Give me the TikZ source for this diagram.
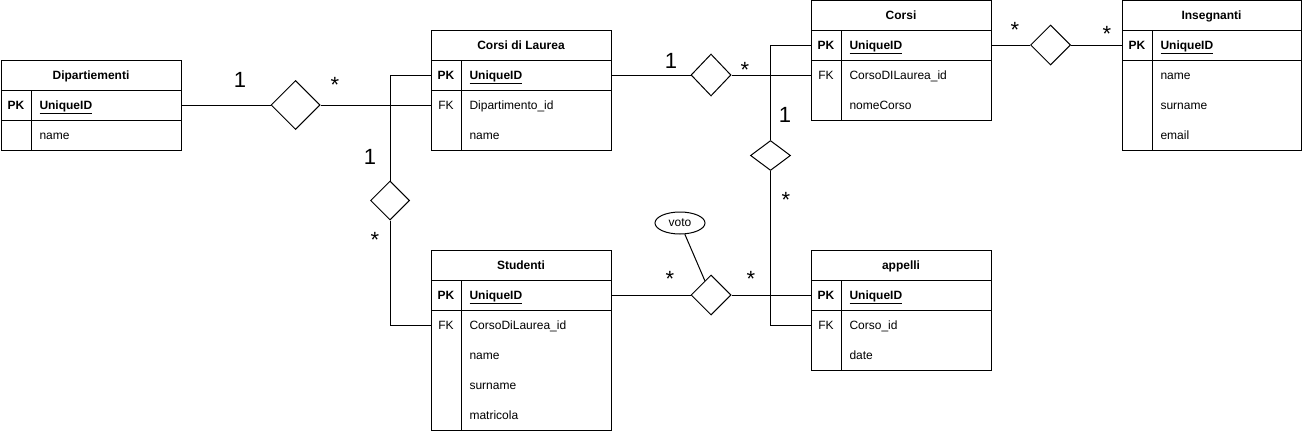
\documentclass[tikz,border=0pt]{standalone}
\usepackage{fontspec}
\setmainfont{Liberation Sans}
\usetikzlibrary{shapes.geometric}
\begin{document}
\begin{tikzpicture}[x=1pt,y=-1pt,line width=1pt,
  tabline/.style={draw=black,line width=1pt},
  hdr/.style={font=\fontsize{12}{14}\selectfont\bfseries,text height=10.9pt,text depth=2.5pt,inner sep=0},
  keytxt/.style={font=\fontsize{12}{14}\selectfont\bfseries,anchor=center,inner sep=0,text height=10.9pt,text depth=2.5pt},
  fktxt/.style={font=\fontsize{12}{14}\selectfont,anchor=center,inner sep=0,text height=10.9pt,text depth=2.5pt},
  fldtxt/.style={font=\fontsize{12}{14}\selectfont,anchor=west,inner sep=0,text height=10.9pt,text depth=2.5pt},
  pktxt/.style={font=\fontsize{12}{14}\selectfont\bfseries,anchor=west,inner sep=0,text height=10.9pt,text depth=2.5pt},
  rowsel/.style={minimum width=180pt,minimum height=30pt,inner sep=0,draw=none},
  rel/.style={diamond,draw=black,fill=white,inner sep=0,line width=1pt},
  one/.style={font=\fontsize{22}{24}\selectfont,anchor=base,yshift=-7.9pt,inner sep=0},
  many/.style={font=\fontsize{22}{24}\selectfont,anchor=base,yshift=-12.5pt,inner sep=0},
  attr/.style={ellipse,draw=black,minimum width=50pt,minimum height=22pt,inner sep=0,font=\fontsize{12}{14}\selectfont}
]
\useasboundingbox (0,0) rectangle (1302,431);

% ---------- Dipartiementi ----------
\draw[tabline] (1,60) rectangle (181,150);
\draw[tabline] (1,90) -- (181,90) (1,120) -- (181,120) (31,90) -- (31,150);
\node[hdr] (dip) at (91,75) {Dipartiementi};
\node[rowsel] (dip-pk) at (91,105) {};
\node[keytxt] (dip-pkk) at (16,105) {PK};
\node[pktxt] (dip-pkf) at (39,105) {\underline{UniqueID}};
\node[fldtxt] (dip-f1) at (39,135) {name};

% ---------- Corsi di Laurea ----------
\draw[tabline] (431,30) rectangle (611,150);
\draw[tabline] (431,60) -- (611,60) (431,90) -- (611,90) (461,60) -- (461,150);
\node[hdr] (cdl) at (521,45) {Corsi di Laurea};
\node[rowsel] (cdl-pk) at (521,75) {};
\node[rowsel] (cdl-fk) at (521,105) {};
\node[keytxt] (cdl-pkk) at (446,75) {PK};
\node[pktxt] (cdl-pkf) at (469,75) {\underline{UniqueID}};
\node[fktxt] (cdl-fkk) at (446,105) {FK};
\node[fldtxt] (cdl-f1) at (469,105) {Dipartimento\_id};
\node[fldtxt] (cdl-f2) at (469,135) {name};

% ---------- Corsi ----------
\draw[tabline] (811,0.5) rectangle (991,120);
\draw[tabline] (811,30) -- (991,30) (811,60) -- (991,60) (841,30) -- (841,120);
\node[hdr] (cor) at (901,15) {Corsi};
\node[rowsel] (cor-pk) at (901,45) {};
\node[rowsel] (cor-fk) at (901,75) {};
\node[keytxt] (cor-pkk) at (826,45) {PK};
\node[pktxt] (cor-pkf) at (849,45) {\underline{UniqueID}};
\node[fktxt] (cor-fkk) at (826,75) {FK};
\node[fldtxt] (cor-f1) at (849,75) {CorsoDILaurea\_id};
\node[fldtxt] (cor-f2) at (849,105) {nomeCorso};

% ---------- Insegnanti ----------
\draw[tabline] (1122,0.5) rectangle (1301,150);
\draw[tabline] (1122,30) -- (1301,30) (1122,60) -- (1301,60) (1152,30) -- (1152,150);
\node[hdr] (ins) at (1211.5,15) {Insegnanti};
\node[rowsel,minimum width=179pt] (ins-pk) at (1211.5,45) {};
\node[keytxt] (ins-pkk) at (1137,45) {PK};
\node[pktxt] (ins-pkf) at (1160,45) {\underline{UniqueID}};
\node[fldtxt] (ins-f1) at (1160,75) {name};
\node[fldtxt] (ins-f2) at (1160,105) {surname};
\node[fldtxt] (ins-f3) at (1160,135) {email};

% ---------- Studenti ----------
\draw[tabline] (431,250) rectangle (611,430);
\draw[tabline] (431,280) -- (611,280) (431,310) -- (611,310) (461,280) -- (461,430);
\node[hdr] (stu) at (521,265) {Studenti};
\node[rowsel] (stu-pk) at (521,295) {};
\node[rowsel] (stu-fk) at (521,325) {};
\node[keytxt] (stu-pkk) at (446,295) {PK};
\node[pktxt] (stu-pkf) at (469,295) {\underline{UniqueID}};
\node[fktxt] (stu-fkk) at (446,325) {FK};
\node[fldtxt] (stu-f1) at (469,325) {CorsoDiLaurea\_id};
\node[fldtxt] (stu-f2) at (469,355) {name};
\node[fldtxt] (stu-f3) at (469,385) {surname};
\node[fldtxt] (stu-f4) at (469,415) {matricola};

% ---------- appelli ----------
\draw[tabline] (811,250) rectangle (991,370);
\draw[tabline] (811,280) -- (991,280) (811,310) -- (991,310) (841,280) -- (841,370);
\node[hdr] (app) at (901,265) {appelli};
\node[rowsel] (app-pk) at (901,295) {};
\node[rowsel] (app-fk) at (901,325) {};
\node[keytxt] (app-pkk) at (826,295) {PK};
\node[pktxt] (app-pkf) at (849,295) {\underline{UniqueID}};
\node[fktxt] (app-fkk) at (826,325) {FK};
\node[fldtxt] (app-f1) at (849,325) {Corso\_id};
\node[fldtxt] (app-f2) at (849,355) {date};

% ---------- relationship diamonds ----------
\node[rel,minimum width=49pt,minimum height=49pt] (d1) at (295.5,105) {};
\node[rel,minimum width=39pt,minimum height=39pt] (d2) at (390,200.5) {};
\node[rel,minimum width=40pt,minimum height=42pt] (d3) at (711,75) {};
\node[rel,minimum width=40pt,minimum height=30pt] (d4) at (770.5,155.5) {};
\node[rel,minimum width=40pt,minimum height=40pt] (d5) at (711,295) {};
\node[rel,minimum width=40pt,minimum height=40pt] (d6) at (1050.5,45) {};
\node[attr] (voto) at (680,223) {voto};

% ---------- connectors ----------
\draw (dip-pk.east) -- (d1.west);
\draw (d1.east) -- (cdl-fk.west);
\draw (cdl-pk.west) -| (d2.north);
\draw (d2.south) |- (stu-fk.west);
\draw (cdl-pk.east) -- (d3.west);
\draw (d3.east) -- (cor-fk.west);
\draw (cor-pk.west) -| (d4.north);
\draw (d4.south) |- (app-fk.west);
\draw (stu-pk.east) -- (d5.west);
\draw (d5.east) -- (app-pk.west);
\draw (cor-pk.east) -- (d6.west);
\draw (d6.east) -- (ins-pk.west);
\draw (voto) -- (d5);

% ---------- cardinalities ----------
\node[one] (c1a) at (240,80) {1};
\node[many] (c1b) at (335,80) {*};
\node[one] (c2a) at (370,157) {1};
\node[many] (c2b) at (375,235) {*};
\node[one] (c3a) at (671,61) {1};
\node[many] (c3b) at (745,65) {*};
\node[one] (c4a) at (785,115) {1};
\node[many] (c4b) at (786,195) {*};
\node[many] (c5a) at (670,274) {*};
\node[many] (c5b) at (751,274) {*};
\node[many] (c6a) at (1015,25) {*};
\node[many] (c6b) at (1107,29) {*};
\end{tikzpicture}
\end{document}
